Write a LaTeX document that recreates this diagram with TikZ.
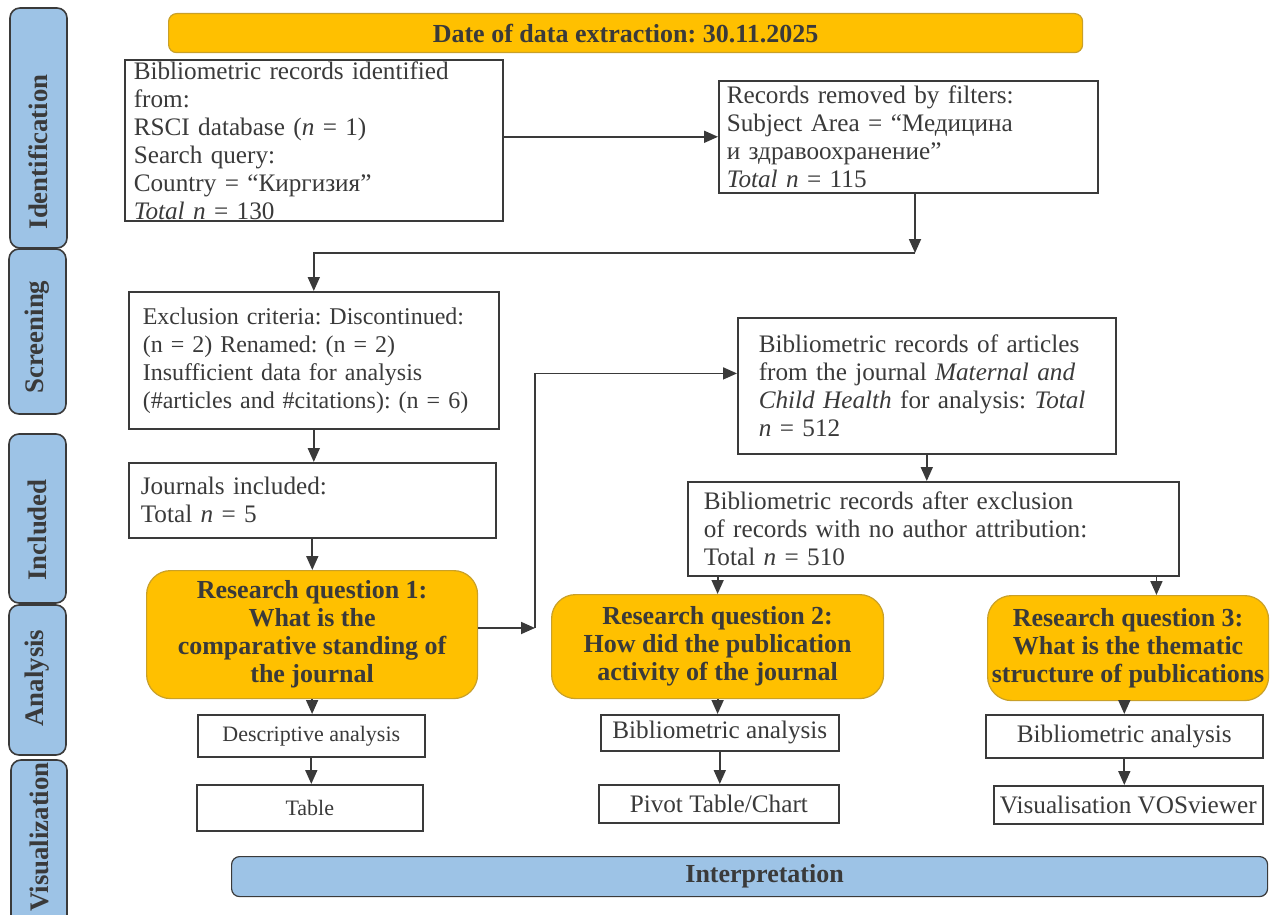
\documentclass[tikz,border=0pt]{standalone}
\usepackage{fontspec}
\setmainfont{Liberation Serif}
\usetikzlibrary{arrows.meta,calc}

\definecolor{rqgold}{RGB}{255,192,0}
\definecolor{rqedge}{RGB}{201,160,40}
\definecolor{tabblue}{RGB}{157,195,230}
\definecolor{inkgrey}{RGB}{58,58,58}

\tikzset{
  txt/.style={font=\fontsize{12.6}{14}\selectfont},
  recbox/.style={draw=inkgrey, line width=0.8pt, fill=white, text=inkgrey, align=left, anchor=north west, inner ysep=0pt, txt},
  smallbox/.style={draw=inkgrey, line width=0.8pt, fill=white, text=inkgrey, anchor=north west, inner sep=0pt, txt},
  rqbox/.style={draw=rqedge, line width=0.6pt, fill=rqgold, rounded corners=12pt, text=inkgrey, align=center, anchor=north west, inner sep=0pt, font=\bfseries\fontsize{13}{14}\selectfont},
  tabshape/.style={draw=inkgrey, line width=0.8pt, fill=tabblue, rounded corners=5pt},
  tabtext/.style={rotate=90, text=inkgrey, inner sep=0pt, font=\bfseries\fontsize{13.4}{15}\selectfont},
  arr/.style={draw=inkgrey, line width=0.9pt, -{Triangle[length=7pt,width=6pt]}},
}

\begin{document}
\frenchspacing
\begin{tikzpicture}[x=0.5pt,y=0.5pt,yscale=-1,xscale=1]
\useasboundingbox (0,0) rectangle (1270,915);

%Shape: Rounded Rect [date bar]
\node [rqbox, draw=rqedge, rounded corners=4pt, minimum width=457pt, minimum height=19.5pt] (extract) at (168,13) {Date of data extraction: 30.11.2025};

%Shape: phase tabs
\draw [tabshape] (10,8) rectangle (67,248);
\draw [tabshape] (9,249) rectangle (66,414);
\draw [tabshape] (9,434) rectangle (66,603);
\draw [tabshape] (9,605) rectangle (66,755);
\draw [tabshape] (11,760) rectangle (67,945);
% Text Node
\node [tabtext] (tabident) at (38.5,152) {Identification};
\node [tabtext] (tabscreen) at (37.5,337) {Screening};
\node [tabtext] (tabincl) at (37.5,530) {Included};
\node [tabtext] (tabanal) at (37.5,678) {Analysis};
\node [tabtext] (tabvis) at (39,837) {Visualization};

% Text Node
\node [recbox, inner xsep=4.5pt, text width=180pt, minimum height=80.5pt] (idrec) at (124,59) {Bibliometric records identified\\ from:\\ RSCI database (\textit{n} = 1)\\ Search query:\\ Country = “Киргизия”\\ \textit{Total n} = 130};
% Text Node
\node [recbox, inner xsep=4pt, text width=181.5pt, minimum height=56pt] (removed) at (718,80) {Records removed by filters:\\ Subject Area = “Медицина\\ и здравоохранение”\\ \textit{Total n} = 115};
% Text Node
\node [recbox, font=\fontsize{12}{14}\selectfont, inner xsep=7pt, text width=171pt, minimum height=68.5pt] (exclu) at (128,291) {Exclusion criteria: Discontinued:\\ (n = 2) Renamed: (n = 2)\\ Insufficient data for analysis\\ (\#articles and \#citations): (n = 6)};
% Text Node
\node [recbox, inner xsep=6pt, text width=171.5pt, minimum height=37.5pt] (journals) at (128,462) {Journals included:\\ Total \textit{n} = 5};
% Text Node
\node [recbox, inner xsep=10.5pt, text width=168pt, minimum height=68pt] (articles) at (737,317) {Bibliometric records of articles\\ from the journal \textit{Maternal and}\\ \textit{Child Health} for analysis: \textit{Total}\\ \textit{n} = 512};
% Text Node
\node [recbox, inner xsep=8pt, text width=229.5pt, minimum height=47pt] (noauth) at (687,481) {Bibliometric records after exclusion\\ of records with no author attribution:\\ Total \textit{n} = 510};

%Shape: research questions
\node [rqbox, minimum width=165.5pt, minimum height=64pt] (rqone) at (146,570) {Research question 1:\\ What is the\\ comparative standing of\\ the journal};
\node [rqbox, minimum width=166pt, minimum height=52pt] (rqtwo) at (551,594) {Research question 2:\\ How did the publication\\ activity of the journal};
\node [rqbox, minimum width=140.5pt, minimum height=52.5pt] (rqthree) at (987,595) {Research question 3:\\ What is the thematic\\ structure of publications};

% analysis and visualisation boxes
\node [smallbox, font=\fontsize{11}{13}\selectfont, minimum width=113.5pt, minimum height=21pt] (desc) at (197,714) {Descriptive analysis};
\node [smallbox, font=\fontsize{11}{13}\selectfont, minimum width=113pt, minimum height=23pt] (tablebox) at (196,784) {Table};
\node [smallbox, minimum width=119pt, minimum height=18pt] (bibtwo) at (600,714) {Bibliometric analysis};
\node [smallbox, minimum width=120pt, minimum height=19pt] (pivot) at (598,784) {Pivot Table/Chart};
\node [smallbox, minimum width=138.5pt, minimum height=21.5pt] (bibthree) at (985,714) {Bibliometric analysis};
\node [smallbox, minimum width=134.5pt, minimum height=19pt] (vosview) at (993,785) {Visualisation VOSviewer};

%Shape: Rounded Rect [interpretation]
\node [rqbox, draw=inkgrey, fill=tabblue, rounded corners=4pt, minimum width=518pt, minimum height=20pt] (interp) at (231,856) {\hspace*{15pt}Interpretation};

% connectors
\coordinate (jointa) at (915,253);
\coordinate (jointb) at (535,628);
\coordinate (noauthr) at ($(noauth.south west)!0.953!(noauth.south east)$);
\draw [arr] (idrec.east |- removed.west) -- (removed.west);
\draw [arr] (removed.south -| jointa) -- (jointa);
\draw [arr] (jointa) -| (exclu.north);
\draw [arr] (exclu.south) -- (exclu.south |- journals.north);
\draw [arr] (journals.south) -- (journals.south |- rqone.north);
\draw [arr] (rqone.east |- jointb) -- (jointb);
\draw [arr] (jointb) |- ($(articles.west)!0.18!(articles.north west)$);
\draw [arr] (articles.south) -- (articles.south |- noauth.north);
\draw [arr] (rqtwo.north |- noauth.south) -- (rqtwo.north);
\draw [arr] (noauthr) -- (noauthr |- rqthree.north);
\draw [arr] (rqone.south) -- (rqone.south |- desc.north);
\draw [arr] (desc.south) -- (desc.south |- tablebox.north);
\draw [arr] (rqtwo.south) -- (rqtwo.south |- bibtwo.north);
\draw [arr] (bibtwo.south) -- (bibtwo.south |- pivot.north);
\draw [arr] (bibthree.north |- rqthree.south) -- (bibthree.north);
\draw [arr] (bibthree.south) -- (bibthree.south |- vosview.north);

\end{tikzpicture}
\end{document}
